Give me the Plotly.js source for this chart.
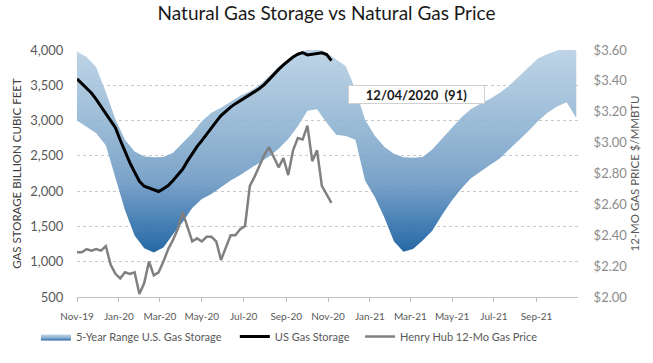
<!DOCTYPE html>
<html>
<head>
<meta charset="utf-8">
<script src="https://cdn.plot.ly/plotly-3.0.1.min.js"></script>
<style>html,body{margin:0;padding:0;background:#fff;}#chart{width:653px;height:363px;}</style>
</head>
<body>
<div id="chart"></div>
<script>
// 5-year range band (biweekly)
const bandDates = ["2019-11-01","2019-11-15","2019-11-29","2019-12-13","2019-12-27","2020-01-10","2020-01-24","2020-02-07","2020-02-21","2020-03-06","2020-03-20","2020-04-03","2020-04-17","2020-05-01","2020-05-15","2020-05-29","2020-06-12","2020-06-26","2020-07-10","2020-07-24","2020-08-07","2020-08-21","2020-09-04","2020-09-18","2020-10-02","2020-10-16","2020-10-30","2020-11-13","2020-11-27","2020-12-11","2020-12-25","2021-01-08","2021-01-22","2021-02-05","2021-02-19","2021-03-05","2021-03-19","2021-04-02","2021-04-16","2021-04-30","2021-05-14","2021-05-28","2021-06-11","2021-06-25","2021-07-09","2021-07-23","2021-08-06","2021-08-20","2021-09-03","2021-09-17","2021-10-01","2021-10-15","2021-10-29"];
const bandMax = [3980,3900,3757,3405,3020,2729,2560,2490,2479,2485,2545,2680,2820,2990,3110,3180,3265,3350,3417,3504,3630,3763,3875,3950,4004,4035,3960,3860,3770,3440,3010,2790,2630,2530,2480,2473,2485,2590,2735,2890,3040,3160,3240,3305,3390,3495,3625,3760,3880,3945,3995,4040,3990];
const bandMin = [3000,2910,2820,2650,2180,1730,1370,1190,1130,1200,1390,1560,1760,1890,1960,2060,2150,2230,2310,2400,2490,2600,2740,2920,3140,3160,2970,2800,2780,2730,2150,1920,1630,1290,1140,1180,1300,1440,1660,1860,2030,2180,2280,2370,2460,2580,2720,2850,2990,3110,3200,3259,3035];

// Weekly US storage and Henry Hub 12-month strip
const weekDates = ["2019-11-01","2019-11-08","2019-11-15","2019-11-22","2019-11-29","2019-12-06","2019-12-13","2019-12-20","2019-12-27","2020-01-03","2020-01-10","2020-01-17","2020-01-24","2020-01-31","2020-02-07","2020-02-14","2020-02-21","2020-02-28","2020-03-06","2020-03-13","2020-03-20","2020-03-27","2020-04-03","2020-04-10","2020-04-17","2020-04-24","2020-05-01","2020-05-08","2020-05-15","2020-05-22","2020-05-29","2020-06-05","2020-06-12","2020-06-19","2020-06-26","2020-07-03","2020-07-10","2020-07-17","2020-07-24","2020-07-31","2020-08-07","2020-08-14","2020-08-21","2020-08-28","2020-09-04","2020-09-11","2020-09-18","2020-09-25","2020-10-02","2020-10-09","2020-10-16","2020-10-23","2020-10-30","2020-11-06"];
const usStorage = [3590,3520,3450,3390,3300,3200,3110,3010,2900,2725,2560,2405,2270,2140,2070,2045,2025,1995,2035,2080,2150,2225,2310,2425,2530,2630,2715,2810,2900,2985,3070,3135,3190,3240,3280,3325,3370,3410,3455,3510,3580,3660,3725,3790,3845,3900,3940,3962,3930,3940,3958,3960,3935,3850];
const hhPrice = [2.29,2.29,2.31,2.30,2.31,2.30,2.33,2.21,2.15,2.12,2.16,2.15,2.16,2.02,2.09,2.23,2.14,2.16,2.23,2.31,2.37,2.44,2.55,2.46,2.36,2.38,2.36,2.39,2.39,2.36,2.24,2.32,2.40,2.40,2.44,2.46,2.72,2.78,2.85,2.92,2.97,2.90,2.84,2.90,2.79,2.95,3.03,3.02,3.11,2.88,2.95,2.72,2.66,2.61];

const seriesNames = ["5-Year Range U.S. Gas Storage","US Gas Storage","Henry Hub 12-Mo Gas Price"];
const noteText = "12/04/2020  (91)";

const FONT = "Lato, 'Open Sans', sans-serif";

const bandX = bandDates.concat(bandDates.slice().reverse());
const bandY = bandMax.concat(bandMin.slice().reverse());

const traces = [
  {
    x: bandX, y: bandY, type: "scatter", mode: "lines", name: seriesNames[0],
    fill: "toself", line: {width: 0, color: "rgba(0,0,0,0)"},
    fillcolor: "rgba(140,178,208,0.9)",
    fillgradient: {type: "vertical", start: 1100, stop: 4050,
      colorscale: [[0, "rgba(28,96,158,0.96)"], [0.15, "rgba(56,118,176,0.93)"], [0.35, "rgba(108,152,194,0.9)"], [0.6, "rgba(138,176,208,0.88)"], [1, "rgba(184,208,228,0.88)"]]},
    legend: "legend", hoverinfo: "skip"
  },
  {
    x: weekDates, y: usStorage, type: "scatter", mode: "lines", name: seriesNames[1],
    line: {color: "#000000", width: 3}, legend: "legend2"
  },
  {
    x: weekDates, y: hhPrice, type: "scatter", mode: "lines", name: seriesNames[2],
    line: {color: "#808080", width: 2.5}, yaxis: "y2", legend: "legend3"
  }
];

const legendBase = {orientation: "h", yanchor: "middle", y: -0.16, xanchor: "left",
  font: {family: FONT, size: 11, color: "#595959"}, bgcolor: "rgba(0,0,0,0)", itemwidth: 30};

const layout = {
  width: 653, height: 363,
  margin: {l: 77, r: 75, t: 50, b: 56},
  paper_bgcolor: "#ffffff", plot_bgcolor: "#ffffff",
  font: {family: FONT, color: "#595959"},
  title: {text: "Natural Gas Storage vs Natural Gas Price", x: 0.5, xanchor: "center", y: 0.962, yanchor: "middle",
    font: {family: FONT, size: 19, color: "#1a1a1a"}},
  xaxis: {
    type: "date", range: ["2019-11-01", "2021-10-31 12:00"], tick0: "2019-11-01", dtick: "M2", tickformat: "%b-%y",
    ticks: "outside", ticklen: 4, tickcolor: "#bfbfbf", showline: true, linecolor: "#bfbfbf", linewidth: 1,
    ticklabelstandoff: 6,
    showgrid: false, zeroline: false, tickfont: {family: FONT, size: 10, color: "#595959"}
  },
  yaxis: {
    range: [500, 4000], dtick: 500, tick0: 500, tickformat: ",d",
    showgrid: true, gridcolor: "#c8c8c8", griddash: "dot", gridwidth: 1, zeroline: false, showline: false,
    ticks: "outside", ticklen: 10, tickcolor: "rgba(0,0,0,0)",
    tickfont: {family: FONT, size: 13, color: "#595959"},
    title: {text: "GAS STORAGE BILLION CUBIC FEET", font: {family: FONT, size: 11.5, color: "#404040"}, standoff: 6}
  },
  yaxis2: {
    overlaying: "y", side: "right", range: [2.0, 3.6], dtick: 0.2, tick0: 2.0, tickformat: "$.2f",
    showgrid: false, zeroline: false, showline: false,
    ticks: "outside", ticklen: 12, tickcolor: "rgba(0,0,0,0)",
    tickfont: {family: FONT, size: 13, color: "#8c8c8c"},
    title: {text: "12-MO GAS PRICE $/MMBTU", font: {family: FONT, size: 11.5, color: "#595959"}, standoff: 4}
  },
  legend: Object.assign({}, legendBase, {x: -0.082}),
  legend2: Object.assign({}, legendBase, {x: 0.315}),
  legend3: Object.assign({}, legendBase, {x: 0.565}),
  showlegend: true,
  annotations: [{
    text: "<b>" + noteText + "</b>", xref: "paper", yref: "paper", x: 0.677, y: 0.82,
    xanchor: "center", yanchor: "middle", showarrow: false,
    font: {family: FONT, size: 13, color: "#1a1a1a"},
    bgcolor: "#ffffff", bordercolor: "#d0d0d0", borderwidth: 1, width: 133, height: 15, borderpad: 1
  }]
};

Plotly.newPlot("chart", traces, layout, {displayModeBar: false, staticPlot: true});
</script>
</body>
</html>
